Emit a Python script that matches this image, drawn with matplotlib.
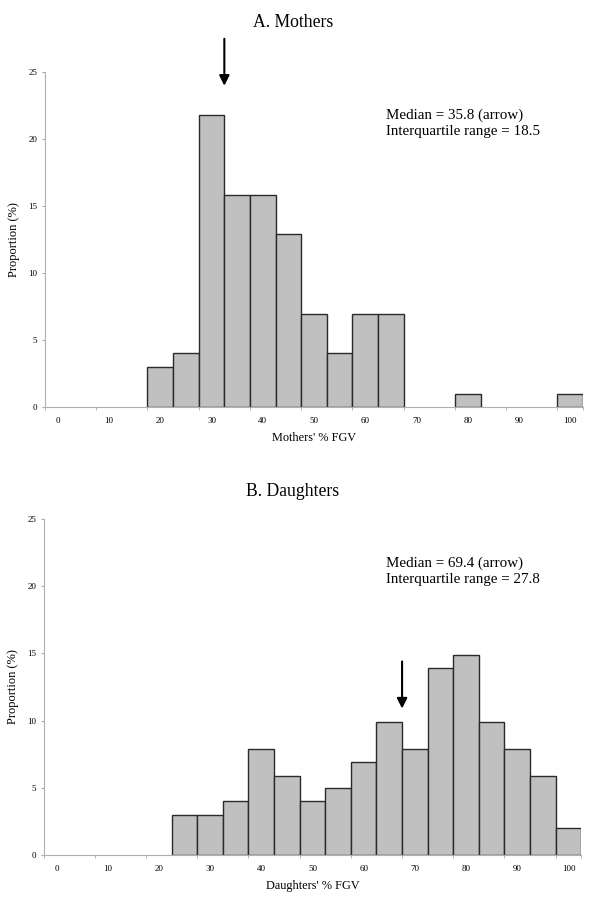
import matplotlib
matplotlib.use('Agg')
import matplotlib.pyplot as plt

plt.rcParams['font.family'] = ['Liberation Serif', 'DejaVu Serif']

# bin centres (% FGV) and proportions (%)
mothers_bins = [20, 25, 30, 35, 40, 45, 50, 55, 60, 65, 80, 100]
mothers_prop = [3.0, 4.0, 21.8, 15.8, 15.8, 12.9, 6.9, 4.0, 6.9, 6.9, 1.0, 1.0]

daughters_bins = [25, 30, 35, 40, 45, 50, 55, 60, 65, 70, 75, 80, 85, 90, 95, 100]
daughters_prop = [3.0, 3.0, 4.0, 7.9, 5.9, 4.0, 5.0, 6.9, 9.9, 7.9, 13.9, 14.9,
                  9.9, 7.9, 5.9, 2.0]

x_labels = list(range(0, 101, 10))
y_ticks = [0, 5, 10, 15, 20, 25]

mothers_arrow = (32.5, 27.45, 23.95)    # x, tail y, tip y
daughters_arrow = (67.5, 14.4, 10.9)

fig = plt.figure(figsize=(6, 9.07), dpi=100)


def draw_panel(ax, bins, prop, arrow, xlabel, stats, stats_y):
    ax.bar(bins, prop, width=5, color='#c0c0c0', edgecolor='#2a2a2a', linewidth=1.0)
    ax.set_xlim(-2.5, 102.5)
    ax.set_ylim(0, 25)
    ax.set_xticks(x_labels)
    ax.set_xticklabels([str(v) for v in x_labels], fontsize=6.5)
    ax.tick_params(axis='x', which='major', length=0, pad=7)
    ax.set_xticks([v - 2.5 for v in x_labels] + [102.5], minor=True)
    ax.tick_params(axis='x', which='minor', length=2.5, color='#aaaaaa', direction='out')
    ax.set_yticks(y_ticks)
    ax.set_yticklabels([str(v) for v in y_ticks], fontsize=6.5)
    ax.tick_params(axis='y', length=2.5, color='#aaaaaa', pad=3)
    for s in ['top', 'right']:
        ax.spines[s].set_visible(False)
    for s in ['left', 'bottom']:
        ax.spines[s].set_color('#b0b0b0')
        ax.spines[s].set_linewidth(0.8)
    ax.set_ylabel('Proportion (%)', fontsize=9, labelpad=6)
    ax.set_xlabel(xlabel, fontsize=8.8, labelpad=5)
    ax.annotate('', xy=(arrow[0], arrow[2]), xytext=(arrow[0], arrow[1]),
                arrowprops=dict(arrowstyle='-|>', color='black', lw=1.5,
                                mutation_scale=15, shrinkA=0, shrinkB=0),
                annotation_clip=False)
    ax.text(386 / 600, stats_y, stats, transform=fig.transFigure, fontsize=10.8,
            va='center', ha='left', linespacing=1.3)


ax1 = fig.add_axes([0.075, 0.5513, 0.8967, 0.3697])
draw_panel(ax1, mothers_bins, mothers_prop, mothers_arrow, "Mothers' % FGV",
           'Median = 35.8 (arrow)\nInterquartile range = 18.5', 1 - 122.8 / 907)

ax2 = fig.add_axes([0.0728, 0.0570, 0.896, 0.3711])
draw_panel(ax2, daughters_bins, daughters_prop, daughters_arrow, "Daughters' % FGV",
           'Median = 69.4 (arrow)\nInterquartile range = 27.8', 1 - 571 / 907)

fig.text(292.7 / 600, 1 - 22.7 / 907, 'A. Mothers', ha='center', va='center', fontsize=12.7)
fig.text(292.7 / 600, 1 - 491.7 / 907, 'B. Daughters', ha='center', va='center', fontsize=12.7)

fig.savefig('out.png', dpi=100)
